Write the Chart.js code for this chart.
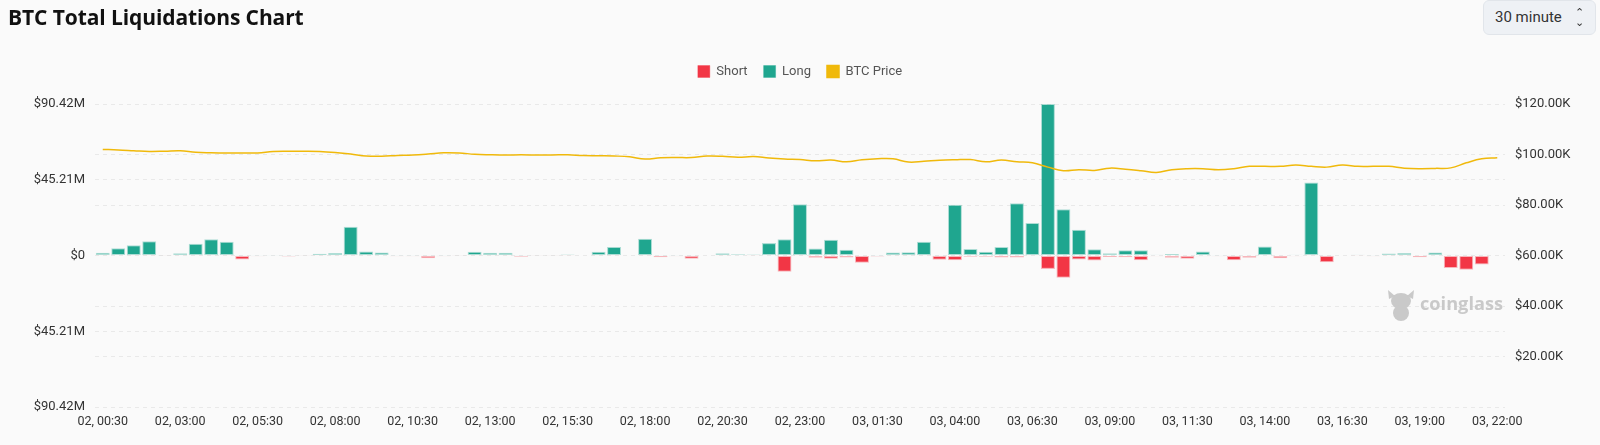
<!DOCTYPE html>
<html>
<head>
<meta charset="utf-8">
<script src="https://cdn.jsdelivr.net/npm/chart.js@4.4.1/dist/chart.umd.min.js"></script>
<style>
  html, body { margin: 0; padding: 0; background: #fafafa; }
  #wrap { position: relative; width: 1600px; height: 445px; overflow: hidden; }
  #title { position: absolute; left: 8px; top: 3px; font: 700 21px "Open Sans", sans-serif; color: #111; letter-spacing: -0.1px; }
  #interval { position: absolute; left: 1483px; top: 0px; width: 113px; height: 35px; box-sizing: border-box;
    background: #eef1f5; border: 1px solid #e1e5ea; border-radius: 6px;
    font: 15px Roboto, sans-serif; color: #333; line-height: 33px; padding-left: 11px; }
  #interval span { position: absolute; right: 11px; top: 0; font-size: 11px; line-height: 10px; padding-top: 7px; text-align: center; }
  canvas { position: absolute; left: 0; top: 0; }
</style>
</head>
<body>
<div id="wrap">
  <canvas id="myChart" width="1600" height="445"></canvas>
  <div id="title">BTC Total Liquidations Chart</div>
  <div id="interval">30 minute <span>&#8963;<br>&#8964;</span></div>
</div>
<script>
// 30 minute buckets, 02 00:30 -> 03 22:00
const times = [
  "02, 00:30","02, 01:00","02, 01:30","02, 02:00","02, 02:30","02, 03:00","02, 03:30","02, 04:00","02, 04:30","02, 05:00",
  "02, 05:30","02, 06:00","02, 06:30","02, 07:00","02, 07:30","02, 08:00","02, 08:30","02, 09:00","02, 09:30","02, 10:00",
  "02, 10:30","02, 11:00","02, 11:30","02, 12:00","02, 12:30","02, 13:00","02, 13:30","02, 14:00","02, 14:30","02, 15:00",
  "02, 15:30","02, 16:00","02, 16:30","02, 17:00","02, 17:30","02, 18:00","02, 18:30","02, 19:00","02, 19:30","02, 20:00",
  "02, 20:30","02, 21:00","02, 21:30","02, 22:00","02, 22:30","02, 23:00","02, 23:30","03, 00:00","03, 00:30","03, 01:00",
  "03, 01:30","03, 02:00","03, 02:30","03, 03:00","03, 03:30","03, 04:00","03, 04:30","03, 05:00","03, 05:30","03, 06:00",
  "03, 06:30","03, 07:00","03, 07:30","03, 08:00","03, 08:30","03, 09:00","03, 09:30","03, 10:00","03, 10:30","03, 11:00",
  "03, 11:30","03, 12:00","03, 12:30","03, 13:00","03, 13:30","03, 14:00","03, 14:30","03, 15:00","03, 15:30","03, 16:00",
  "03, 16:30","03, 17:00","03, 17:30","03, 18:00","03, 18:30","03, 19:00","03, 19:30","03, 20:00","03, 20:30","03, 21:00",
  "03, 22:00"
]

// liquidations in $M (long up, short drawn down)
const longs = [
  1.6, 4.4, 6.1, 8.5, 0.1, 1.4, 7.0, 9.7, 8.2, 0.1,
  0.1, 0.1, 0.1, 0.2, 1.0, 1.5, 17.1, 2.4, 1.8, 0.1,
  0.1, 0.1, 0.1, 0.1, 2.2, 1.6, 1.6, 0.1, 0.2, 0.1,
  0.6, 0, 2.3, 5.1, 0.3, 10.0, 0.1, 0.1, 0.1, 0,
  1.4, 0.8, 0.6, 7.4, 9.7, 30.6, 4.2, 9.4, 3.4, 0.3,
  0.1, 1.8, 1.9, 8.2, 0.1, 30.3, 3.9, 2.2, 5.0, 31.2,
  19.4, 90.42, 27.6, 15.3, 3.8, 1.4, 3.1, 3.2, 0.4, 0.9,
  0.3, 2.4, 0.1, 0.1, 0.3, 5.4, 0.3, 0.4, 43.5, 0.1,
  0, 0.5, 0.1, 1.2, 1.5, 0.3, 1.8, 0.4, 0.4, 0.4,
  0
]
const shorts = [
  0.1, 0.3, 0.1, 0.1, 0.2, 0.1, 0.1, 0.1, 0.1, 2.4,
  0.5, 0.3, 0.6, 0.1, 0.1, 0.1, 0.1, 0.1, 0.3, 0.5,
  0.5, 1.6, 0.5, 0.2, 0.1, 0.1, 0.1, 0.8, 0.1, 0.1,
  0.1, 0, 0.1, 0.1, 0.3, 0.1, 1.0, 0.4, 2.0, 0,
  0.1, 0.3, 0.1, 0.3, 9.7, 0.1, 1.4, 2.0, 1.2, 4.4,
  0.6, 0.1, 0.1, 0.1, 2.6, 2.8, 0.8, 0.8, 1.2, 1.2,
  0.1, 8.0, 13.3, 2.4, 3.0, 0.9, 1.0, 2.8, 0.4, 1.3,
  2.0, 0.5, 0.5, 2.8, 1.4, 0.3, 1.6, 0.4, 0.1, 4.0,
  0, 0.1, 0.4, 0.2, 0.1, 1.0, 0.3, 7.4, 8.5, 5.4,
  0
]
// BTC price in $K
const price = [
  102.0, 101.8, 101.5, 101.2, 101.3, 101.5, 100.9, 100.7, 100.6, 100.6,
  100.6, 101.2, 101.3, 101.3, 101.2, 100.8, 100.2, 99.4, 99.3, 99.6,
  99.8, 100.2, 100.7, 100.6, 100.1, 99.9, 99.8, 99.9, 99.8, 99.8,
  99.9, 99.6, 99.5, 99.4, 99.1, 98.2, 98.7, 98.8, 98.8, 99.4,
  99.3, 98.9, 99.2, 98.6, 98.2, 98.0, 97.5, 97.8, 97.1, 97.9,
  98.3, 98.3, 97.0, 97.3, 97.7, 97.9, 98.0, 97.1, 97.8, 97.1,
  96.7, 95.0, 93.6, 94.0, 93.7, 94.6, 94.2, 93.6, 92.9, 94.0,
  94.4, 94.4, 94.0, 94.4, 95.3, 95.3, 95.3, 95.8, 95.3, 95.0,
  95.8, 95.3, 95.3, 95.3, 94.6, 94.4, 94.5, 94.7, 96.7, 98.3,
  98.7
]

const leftTicks = [-90.42, -45.21, 0, 45.21, 90.42]
const rightTicks = [0, 20, 40, 60, 80, 100, 120]

const RED = '#f23645'
const TEAL = '#1fa68f'
const GOLD = '#f0b90b'

const watermark = {
  id: 'watermark',
  beforeDatasetsDraw(chart) {
    const ctx = chart.ctx
    ctx.save()
    ctx.fillStyle = '#c9c9c9'
    // little bull head
    ctx.beginPath()
    ctx.ellipse(1401, 301, 10, 8, 0, 0, Math.PI * 2)
    ctx.fill()
    ctx.beginPath()
    ctx.ellipse(1401, 313, 8, 8, 0, 0, Math.PI * 2)
    ctx.fill()
    ctx.beginPath()
    ctx.moveTo(1388, 290); ctx.lineTo(1395, 296); ctx.lineTo(1389, 299); ctx.fill()
    ctx.beginPath()
    ctx.moveTo(1414, 290); ctx.lineTo(1407, 296); ctx.lineTo(1413, 299); ctx.fill()
    // fit the word into ~83px like the original mark
    ctx.font = 'bold 20px "Open Sans", sans-serif'
    const w = ctx.measureText('coinglass').width
    const size = Math.min(24, 20 * 83 / w)
    ctx.font = 'bold ' + size.toFixed(1) + 'px "Open Sans", sans-serif'
    ctx.textBaseline = 'middle'
    ctx.fillText('coinglass', 1420, 305)
    ctx.restore()
  }
}

const legendGap = {
  id: 'legendGap',
  beforeInit(chart) {
    const fit = chart.legend.fit
    chart.legend.fit = function () {
      fit.bind(chart.legend)()
      this.height += 16
    }
  }
}

Chart.defaults.font.family = 'Roboto, sans-serif'
Chart.defaults.font.size = 13
Chart.defaults.color = '#333'

const ctx = document.getElementById('myChart').getContext('2d')
const chart = new Chart(ctx, {
  type: 'bar',
  data: {
    labels: times,
    datasets: [
      {
        label: 'Short',
        data: shorts.map(v => -v),
        backgroundColor: RED,
        borderColor: 'rgba(242,54,69,0.35)',
        borderWidth: 1,
        borderSkipped: false,
        yAxisID: 'y',
        order: 1
      },
      {
        label: 'Long',
        data: longs,
        backgroundColor: TEAL,
        borderColor: 'rgba(31,166,143,0.35)',
        borderWidth: 1,
        borderSkipped: false,
        yAxisID: 'y',
        order: 1
      },
      {
        type: 'line',
        label: 'BTC Price',
        data: price,
        borderColor: GOLD,
        backgroundColor: GOLD,
        borderWidth: 1.5,
        pointRadius: 0,
        tension: 0.4,
        yAxisID: 'y1',
        order: 0
      }
    ]
  },
  options: {
    responsive: false,
    animation: false,
    layout: { padding: { top: 49, left: 0, right: 0, bottom: 0 } },
    datasets: { bar: { categoryPercentage: 0.9, barPercentage: 1 } },
    plugins: {
      legend: {
        position: 'top',
        labels: {
          boxWidth: 12,
          boxHeight: 12,
          padding: 16,
          color: '#555',
          font: { size: 13 },
          sort: (a, b) => a.datasetIndex - b.datasetIndex
        }
      },
      tooltip: { enabled: false }
    },
    scales: {
      x: {
        stacked: true,
        grid: { display: false, drawTicks: false },
        border: { display: false },
        ticks: {
          autoSkip: false,
          maxRotation: 0,
          padding: 7,
          font: { size: 12.5 },
          callback: function (v, i) { return i % 5 === 0 ? times[i] : '' }
        },
        afterFit: s => { s.height = 38 }
      },
      y: {
        stacked: true,
        position: 'left',
        min: -90.42,
        max: 90.42,
        afterBuildTicks: s => { s.ticks = leftTicks.map(v => ({ value: v })) },
        grid: { color: '#e9e9e9', drawTicks: false },
        border: { display: false, dash: [4, 4] },
        ticks: {
          padding: 10,
          callback: v => v === 0 ? '$0' : '$' + Math.abs(v).toFixed(2) + 'M'
        },
        afterFit: s => { s.width = 95 }
      },
      y1: {
        position: 'right',
        min: 0,
        max: 120,
        afterBuildTicks: s => { s.ticks = rightTicks.map(v => ({ value: v })) },
        grid: { color: '#e9e9e9', drawTicks: false },
        border: { display: false, dash: [4, 4] },
        ticks: {
          padding: 10,
          callback: v => v === 0 ? '' : '$' + v.toFixed(2) + 'K'
        },
        afterFit: s => { s.width = 95 }
      }
    }
  },
  plugins: [watermark, legendGap]
})
</script>
</body>
</html>
